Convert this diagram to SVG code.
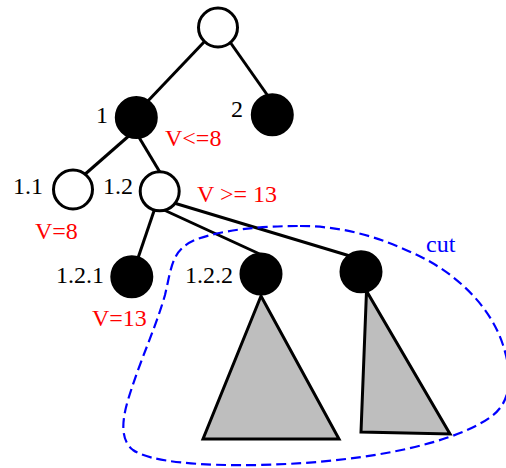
<svg xmlns="http://www.w3.org/2000/svg" width="506" height="468" viewBox="0 0 506 468">
<style>
.open{fill:#fff;stroke:#000;stroke-width:3}
.solid{fill:#000;stroke:#000;stroke-width:3}
.edge{stroke:#000;stroke-width:3;fill:none;stroke-linecap:butt}
.tri{fill:#bebebe;stroke:#000;stroke-width:3;stroke-linejoin:miter}
.lbl{font-family:"Liberation Serif","Times New Roman",serif;font-size:24px;fill:#000}
.val{font-family:"Liberation Serif","Times New Roman",serif;font-size:24px;fill:#ff0000}
.cutl{font-family:"Liberation Serif","Times New Roman",serif;font-size:24px;fill:#0000ff}
.cut{fill:none;stroke:#0000ff;stroke-width:2.2;stroke-dasharray:10 5}
</style>
<rect width="506" height="468" fill="#fff"/>
<g id="connectors">
<line class="edge" x1="205" y1="41" x2="146" y2="103"/>
<line class="edge" x1="230" y1="42" x2="268" y2="96"/>
<line class="edge" x1="131" y1="134" x2="83" y2="176"/>
<line class="edge" x1="137" y1="134" x2="161" y2="174"/>
<line class="edge" x1="155" y1="208" x2="138" y2="258"/>
<line class="edge" x1="164" y1="210" x2="264" y2="256"/>
<line class="edge" x1="174" y1="203" x2="350" y2="256"/>
</g>
<g id="node-root"><circle class="open" cx="218" cy="27.5" r="19.5"/></g>
<g id="node-1"><circle class="solid" cx="136.3" cy="117.5" r="20"/><text class="lbl" x="96" y="123">1</text><text class="val" x="165" y="146">V&lt;=8</text></g>
<g id="node-2"><circle class="solid" cx="272.3" cy="114.7" r="20"/><text class="lbl" x="231" y="117">2</text></g>
<g id="node-1.1"><circle class="open" cx="73" cy="189.5" r="19.5"/><text class="lbl" x="13" y="194">1.1</text><text class="val" x="35" y="239">V=8</text></g>
<g id="node-1.2"><circle class="open" cx="159.7" cy="191.3" r="19.5"/><text class="lbl" x="103" y="194">1.2</text><text class="val" x="197" y="202">V &gt;= 13</text></g>
<g id="node-1.2.1"><circle class="solid" cx="131.8" cy="276.7" r="20"/><text class="lbl" x="56" y="283">1.2.1</text><text class="val" x="92" y="326">V=13</text></g>
<g id="node-1.2.2"><circle class="solid" cx="261" cy="274" r="20"/><text class="lbl" x="185" y="283">1.2.2</text></g>
<g id="node-1.2.3"><circle class="solid" cx="361" cy="271.7" r="20"/></g>
<g id="subtree-1.2.2"><polygon class="tri" points="261,296 203,439 339,439"/></g>
<g id="subtree-1.2.3"><polygon class="tri" points="366.5,291 361,432 450,434"/></g>
<g id="cut">
<path class="cut" d="M 300,226 C 345,226 380,238 413,253 C 455,272 490,305 503,345 C 512,372 513,400 492,416 C 460,440 380,462 260,465 C 200,466 150,462 133,450 C 120,440 122,420 128,400 C 140,360 155,330 165,295 C 172,265 172,250 195,240 C 220,230 260,226 300,226 Z"/>
<text class="cutl" x="426" y="252">cut</text>
</g>
</svg>
